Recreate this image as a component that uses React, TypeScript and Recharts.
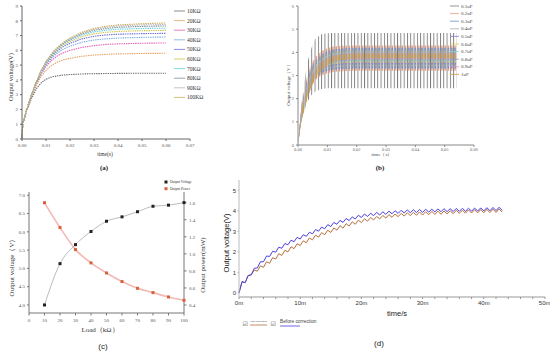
import React from 'react';
import { LineChart, Line, AreaChart, Area, ComposedChart, XAxis, YAxis } from 'recharts';

const serif = 'Liberation Serif, serif';
const sans = 'Liberation Sans, Arial, sans-serif';

// ---------- (a) output voltage for different loads ----------
const loadNames = ['10KΩ', '20KΩ', '30KΩ', '40KΩ', '50KΩ', '60KΩ', '70KΩ', '80KΩ', '90KΩ', '100KΩ'];
const aTime = [0, 0.0003, 0.002, 0.004, 0.006, 0.008, 0.01, 0.0125, 0.015, 0.0175, 0.02, 0.025, 0.03, 0.035, 0.04, 0.05, 0.06];
const aVolt = [
  [0, 1.0, 1.95, 2.75, 3.4, 3.8, 4.05, 4.2, 4.28, 4.33, 4.36, 4.4, 4.42, 4.43, 4.44, 4.45, 4.45],
  [0, 1.0, 2.0, 2.9, 3.65, 4.25, 4.65, 5.0, 5.22, 5.36, 5.46, 5.6, 5.68, 5.73, 5.76, 5.79, 5.8],
  [0, 1.0, 2.0, 2.95, 3.75, 4.4, 4.9, 5.35, 5.65, 5.85, 6.0, 6.2, 6.32, 6.4, 6.44, 6.48, 6.5],
  [0, 1.0, 2.0, 3.0, 3.8, 4.5, 5.0, 5.5, 5.85, 6.1, 6.28, 6.55, 6.7, 6.78, 6.83, 6.88, 6.9],
  [0, 1.0, 2.0, 3.0, 3.82, 4.55, 5.1, 5.6, 6.0, 6.28, 6.48, 6.78, 6.95, 7.04, 7.09, 7.13, 7.15],
  [0, 1.0, 2.0, 3.0, 3.85, 4.58, 5.15, 5.68, 6.08, 6.38, 6.6, 6.93, 7.12, 7.22, 7.28, 7.33, 7.35],
  [0, 1.0, 2.0, 3.0, 3.86, 4.6, 5.18, 5.72, 6.14, 6.45, 6.68, 7.04, 7.25, 7.36, 7.43, 7.48, 7.5],
  [0, 1.0, 2.0, 3.0, 3.87, 4.62, 5.2, 5.75, 6.18, 6.5, 6.74, 7.12, 7.35, 7.48, 7.56, 7.62, 7.65],
  [0, 1.0, 2.0, 3.0, 3.88, 4.63, 5.22, 5.78, 6.21, 6.54, 6.79, 7.18, 7.42, 7.56, 7.65, 7.72, 7.75],
  [0, 1.0, 2.0, 3.0, 3.88, 4.64, 5.24, 5.8, 6.24, 6.57, 6.83, 7.23, 7.48, 7.63, 7.72, 7.8, 7.85],
];
const aXTicks = [0, 0.01, 0.02, 0.03, 0.04, 0.05, 0.06, 0.07];
const aYTicks = [0, 1, 2, 3, 4, 5, 6, 7, 8, 9];
const loadColors = ['#6e6e6e', '#e3a25e', '#e25fb4', '#79aee0', '#6a6ad6', '#cfc24a', '#62d2e2', '#7d8a9a', '#b8b8b8', '#c9ad5c'];

// ---------- (b) output voltage for different capacitors (ripple envelope) ----------
const capNames = ['0.1uF', '0.2uF', '0.3uF', '0.4uF', '0.5uF', '0.6uF', '0.7uF', '0.8uF', '0.9uF', '1uF'];
const bTime = [0, 0.001, 0.002, 0.003, 0.004, 0.005, 0.006, 0.008, 0.01, 0.012, 0.015, 0.02, 0.025, 0.054];
const capHigh = [
  [0, 1.6, 2.6, 3.4, 3.95, 4.35, 4.6, 4.78, 4.82, 4.83, 4.83, 4.83, 4.83, 4.83],
  [0, 1.5, 2.3, 2.9, 3.3, 3.6, 3.8, 4.05, 4.18, 4.25, 4.28, 4.3, 4.3, 4.3],
  [0, 1.45, 2.2, 2.75, 3.15, 3.45, 3.65, 3.9, 4.05, 4.12, 4.17, 4.2, 4.2, 4.2],
  [0, 1.4, 2.1, 2.65, 3.05, 3.35, 3.57, 3.83, 3.98, 4.05, 4.1, 4.12, 4.12, 4.12],
  [0, 1.38, 2.05, 2.58, 2.98, 3.28, 3.5, 3.78, 3.93, 4.0, 4.05, 4.08, 4.08, 4.08],
  [0, 1.36, 2.0, 2.52, 2.92, 3.22, 3.45, 3.73, 3.89, 3.97, 4.02, 4.05, 4.05, 4.05],
  [0, 1.34, 1.97, 2.47, 2.86, 3.16, 3.4, 3.68, 3.85, 3.93, 3.99, 4.02, 4.02, 4.02],
  [0, 1.32, 1.94, 2.43, 2.81, 3.11, 3.35, 3.64, 3.81, 3.9, 3.96, 4.0, 4.0, 4.0],
  [0, 1.31, 1.92, 2.39, 2.76, 3.06, 3.3, 3.6, 3.77, 3.87, 3.94, 3.98, 3.98, 3.98],
  [0, 1.3, 1.9, 2.35, 2.72, 3.0, 3.25, 3.55, 3.73, 3.84, 3.91, 3.95, 3.95, 3.95],
];
const capLow = [
  [0, 0.9, 1.4, 1.8, 2.05, 2.22, 2.32, 2.42, 2.45, 2.45, 2.45, 2.45, 2.45, 2.45],
  [0, 1.0, 1.6, 2.05, 2.4, 2.65, 2.82, 3.0, 3.1, 3.15, 3.18, 3.2, 3.2, 3.2],
  [0, 1.0, 1.6, 2.1, 2.45, 2.72, 2.9, 3.1, 3.2, 3.25, 3.28, 3.3, 3.3, 3.3],
  [0, 1.0, 1.6, 2.1, 2.48, 2.76, 2.97, 3.2, 3.3, 3.35, 3.38, 3.4, 3.4, 3.4],
  [0, 1.0, 1.58, 2.08, 2.47, 2.77, 3.0, 3.25, 3.37, 3.43, 3.46, 3.48, 3.48, 3.48],
  [0, 0.98, 1.55, 2.05, 2.45, 2.76, 3.0, 3.28, 3.42, 3.49, 3.53, 3.55, 3.55, 3.55],
  [0, 0.97, 1.52, 2.02, 2.42, 2.74, 2.99, 3.29, 3.45, 3.53, 3.58, 3.6, 3.6, 3.6],
  [0, 0.96, 1.5, 1.98, 2.38, 2.7, 2.96, 3.28, 3.46, 3.56, 3.62, 3.65, 3.65, 3.65],
  [0, 0.95, 1.47, 1.94, 2.33, 2.65, 2.92, 3.26, 3.46, 3.58, 3.65, 3.69, 3.7, 3.7],
  [0, 0.95, 1.45, 1.9, 2.28, 2.6, 2.88, 3.22, 3.44, 3.58, 3.67, 3.73, 3.75, 3.75],
];
const bXTicks = [0, 0.01, 0.02, 0.03, 0.04, 0.05, 0.06];
const bYTicks = [0, 1, 2, 3, 4, 5, 6];
const capColors = ['#7a7a7a', '#e99a7c', '#6a8fd0', '#9fb3a6', '#8a7fd6', '#d8c55a', '#7fd0e0', '#8e9caa', '#e58fb4', '#c9a03e'];

// ---------- (c) voltage and power vs load ----------
const loadK = [10, 20, 30, 40, 50, 60, 70, 80, 90, 100];
const outVoltage = [4.0, 5.13, 5.65, 6.01, 6.29, 6.41, 6.55, 6.7, 6.73, 6.8];
const outPower = [1.6, 1.31, 1.05, 0.894, 0.776, 0.675, 0.596, 0.545, 0.494, 0.455];
const cXTicks = [0, 10, 20, 30, 40, 50, 60, 70, 80, 90, 100];
const cVTicks = [4.0, 4.5, 5.0, 5.5, 6.0, 6.5, 7.0];
const cPTicks = [0.4, 0.6, 0.8, 1.0, 1.2, 1.4, 1.6];

// ---------- (d) before / after correction (ms) ----------
const beforeTrough = [0, 0.5, 0.88, 1.22, 1.52, 1.78, 1.99, 2.18, 2.35, 2.5, 2.63, 2.76, 2.88, 3.01, 3.13, 3.24, 3.35, 3.44, 3.53, 3.61, 3.68, 3.73, 3.77, 3.8, 3.83, 3.86, 3.88, 3.9, 3.91, 3.92, 3.93, 3.94, 3.95, 3.96, 3.965, 3.97, 3.98, 3.985, 3.99, 3.995, 4.0, 4.01, 4.02, 4.03];
const beforePeak = [0.55, 0.85, 1.2, 1.52, 1.8, 2.03, 2.23, 2.41, 2.57, 2.71, 2.84, 2.96, 3.09, 3.21, 3.33, 3.44, 3.54, 3.63, 3.71, 3.79, 3.85, 3.89, 3.93, 3.96, 3.99, 4.01, 4.03, 4.05, 4.06, 4.07, 4.08, 4.09, 4.1, 4.11, 4.11, 4.12, 4.13, 4.13, 4.14, 4.15, 4.16, 4.17, 4.18];
const afterTrough = [0, 0.5, 0.88, 1.06, 1.25, 1.45, 1.65, 1.83, 2.0, 2.16, 2.31, 2.45, 2.59, 2.72, 2.84, 2.95, 3.06, 3.16, 3.26, 3.35, 3.43, 3.5, 3.56, 3.61, 3.65, 3.69, 3.72, 3.75, 3.77, 3.79, 3.8, 3.815, 3.83, 3.84, 3.855, 3.865, 3.88, 3.89, 3.9, 3.905, 3.91, 3.92, 3.93, 3.94];
const afterPeak = [0.55, 0.85, 1.12, 1.32, 1.52, 1.72, 1.91, 2.08, 2.25, 2.4, 2.54, 2.68, 2.82, 2.94, 3.06, 3.17, 3.28, 3.38, 3.47, 3.55, 3.62, 3.68, 3.73, 3.78, 3.82, 3.85, 3.88, 3.91, 3.93, 3.95, 3.96, 3.98, 3.99, 4.0, 4.01, 4.03, 4.04, 4.05, 4.06, 4.07, 4.08, 4.09, 4.1];
const dXTicks = [0, 2, 4, 6, 8, 10, 12, 14, 16, 18, 20, 22, 24, 26, 28, 30, 32, 34, 36, 38, 40, 42, 44, 46, 48, 50];
const dYTicks = [0, 1, 2, 3, 4, 5];

function PanelA() {
  const rows = aTime.map((t, i) => {
    const r: Record<string, number> = { t };
    aVolt.forEach((s, j) => (r['s' + j] = s[i]));
    return r;
  });
  const tick = { fontSize: 5, fill: '#555', fontFamily: serif };
  return (
    <div style={{ position: 'absolute', left: 0, top: 0 }}>
      <LineChart width={250} height={176} data={rows} margin={{ top: 6, right: 60, bottom: 0, left: 0 }}>
        <XAxis dataKey="t" type="number" domain={[0, 0.07]} ticks={aXTicks} tickFormatter={(v) => v.toFixed(2)}
          height={37} tickSize={2} tickMargin={2} tick={tick} stroke="#666" />
        <YAxis type="number" domain={[0, 9]} ticks={aYTicks} width={22} tickSize={2} tickMargin={2} tick={tick} stroke="#666" />
        {aVolt.map((_, j) => (
          <Line key={j} type="linear" dataKey={'s' + j} stroke={loadColors[j]} strokeWidth={1.1}
            strokeDasharray="1.4 0.9" dot={false} isAnimationActive={false} />
        ))}
      </LineChart>
    </div>
  );
}

function PanelB() {
  const rows = bTime.map((t, i) => {
    const r: Record<string, any> = { t };
    capHigh.forEach((s, j) => (r['c' + j] = [capLow[j][i], s[i]]));
    return r;
  });
  const tick = { fontSize: 4.5, fill: '#666', fontFamily: serif };
  return (
    <div style={{ position: 'absolute', left: 275, top: 0 }}>
      <AreaChart width={275} height={176} data={rows} margin={{ top: 6, right: 76, bottom: 0, left: 0 }}>
        <defs>
          {capColors.map((c, j) => (
            <pattern key={j} id={'spk' + j} width={3.3} height={8} patternUnits="userSpaceOnUse">
              <rect x={j === 0 ? 0 : 1.1} y={0} width={j === 0 ? 0.9 : 1.5} height={8} fill={c} />
            </pattern>
          ))}
        </defs>
        <XAxis dataKey="t" type="number" domain={[0, 0.06]} ticks={bXTicks} tickFormatter={(v) => v.toFixed(2)}
          height={31} tickSize={2} tickMargin={1} tick={tick} stroke="#888" />
        <YAxis type="number" domain={[0, 6]} ticks={bYTicks} width={23} tickSize={2} tickMargin={2} tick={tick} stroke="#888" />
        {capHigh.map((_, j) => (
          <Area key={j} type="linear" dataKey={'c' + j} stroke="none" fill={'url(#spk' + j + ')'} fillOpacity={1}
            dot={false} activeDot={false} isAnimationActive={false} />
        ))}
      </AreaChart>
    </div>
  );
}

const squareDot = (fill: string, size: number) => (props: any) => {
  const { cx, cy, index } = props;
  if (cx == null || cy == null) return <g key={index} />;
  return <rect key={index} x={cx - size / 2} y={cy - size / 2} width={size} height={size} fill={fill} />;
};

function PanelC() {
  const rows = loadK.map((x, i) => ({ x, v: outVoltage[i], p: outPower[i] }));
  const tick = { fontSize: 5, fill: '#555', fontFamily: serif };
  return (
    <div style={{ position: 'absolute', left: 0, top: 176 }}>
      <ComposedChart width={215} height={176} data={rows} margin={{ top: 16, right: 0, bottom: 0, left: 0 }}>
        <XAxis dataKey="x" type="number" domain={[0, 100]} ticks={cXTicks} height={39} tickSize={2.5} tickMargin={2.5}
          tick={tick} stroke="#777" />
        <YAxis yAxisId="v" type="number" domain={[3.78, 7.09]} ticks={cVTicks} tickFormatter={(v) => v.toFixed(1)}
          width={29} tickSize={2} tickMargin={2} tick={tick} stroke="#777" />
        <YAxis yAxisId="p" orientation="right" type="number" domain={[0.306, 1.726]} ticks={cPTicks}
          tickFormatter={(v) => v.toFixed(1)} width={31} tickSize={2.5} tickMargin={2.5} tick={tick} stroke="#777" />
        <Line yAxisId="p" type="monotone" dataKey="p" stroke="#f3b9b5" strokeWidth={1.6} dot={squareDot('#d8623c', 3)}
          activeDot={false} isAnimationActive={false} />
        <Line yAxisId="v" type="monotone" dataKey="v" stroke="#aaa" strokeWidth={0.8} dot={squareDot('#222', 3)}
          activeDot={false} isAnimationActive={false} />
      </ComposedChart>
    </div>
  );
}

function PanelD() {
  const rows: { t: number; b: number; a: number }[] = [];
  beforeTrough.forEach((v, k) => {
    rows.push({ t: k, b: v, a: afterTrough[k] });
    if (k < beforePeak.length) rows.push({ t: k + 0.5, b: beforePeak[k], a: afterPeak[k] });
  });
  const tick = { fontSize: 6, fill: '#333', fontFamily: sans };
  return (
    <div style={{ position: 'absolute', left: 215, top: 176 }}>
      <LineChart width={335} height={176} data={rows} margin={{ top: 4, right: 5, bottom: 0, left: 0 }}>
        <XAxis dataKey="t" type="number" domain={[0, 50]} ticks={dXTicks}
          tickFormatter={(v) => (v % 10 === 0 ? v + 'm' : '')} height={55} tickSize={2} tickMargin={1.5}
          tick={tick} stroke="#999" />
        <YAxis type="number" domain={[-0.2, 5.51]} ticks={dYTicks} width={24} tickSize={1.5} tickMargin={1.5}
          tick={tick} stroke="#bbb" />
        <Line type="linear" dataKey="a" stroke="#b8703e" strokeWidth={1} dot={false} isAnimationActive={false} />
        <Line type="linear" dataKey="b" stroke="#4a3fe0" strokeWidth={1} dot={false} isAnimationActive={false} />
      </LineChart>
    </div>
  );
}

function Overlay() {
  return (
    <svg width={550} height={352} style={{ position: 'absolute', left: 0, top: 0, pointerEvents: 'none' }}>
      {/* (a) */}
      <text x={10} y={77} transform="rotate(-90 10 77)" textAnchor="middle" dominantBaseline="central"
        fontFamily={serif} fontSize={6.5} fill="#333">Output voltage(V)</text>
      <text x={105} y={154} textAnchor="middle" dominantBaseline="central" fontFamily={serif} fontSize={5.5} fill="#333">time(s)</text>
      <text x={104} y={168} textAnchor="middle" dominantBaseline="central" fontFamily={serif} fontSize={7} fontWeight="bold" fill="#222">(a)</text>
      {loadNames.map((n, i) => (
        <g key={n}>
          <line x1={174} x2={185} y1={11 + i * 9.6} y2={11 + i * 9.6} stroke={loadColors[i]} strokeWidth={0.8} />
          <text x={187} y={11 + i * 9.6} dominantBaseline="central" fontFamily={serif} fontSize={5.5} fill="#333">{n}</text>
        </g>
      ))}
      {/* (b) */}
      <text x={288} y={84} transform="rotate(-90 288 84)" textAnchor="middle" dominantBaseline="central"
        fontFamily={serif} fontSize={5} fill="#444">Output voltage（V）</text>
      <text x={382} y={154} textAnchor="middle" dominantBaseline="central" fontFamily={serif} fontSize={5} fill="#444">time（s）</text>
      <text x={380} y={168} textAnchor="middle" dominantBaseline="central" fontFamily={serif} fontSize={7} fontWeight="bold" fill="#222">(b)</text>
      {capNames.map((n, i) => (
        <g key={n}>
          <line x1={450} x2={459} y1={6 + i * 7.6} y2={6 + i * 7.6} stroke={capColors[i]} strokeWidth={0.8} />
          <text x={461} y={6 + i * 7.6} dominantBaseline="central" fontFamily={serif} fontSize={5} fill="#444">{n}</text>
        </g>
      ))}
      {/* (c) */}
      <text x={12} y={266} transform="rotate(-90 12 266)" textAnchor="middle" dominantBaseline="central"
        fontFamily={serif} fontSize={7} fill="#333">Output voltage（V）</text>
      <text x={203} y={265} transform="rotate(-90 203 265)" textAnchor="middle" dominantBaseline="central"
        fontFamily={serif} fontSize={7} fill="#333">Output power(mW)</text>
      <text x={100} y={330} textAnchor="middle" dominantBaseline="central" fontFamily={serif} fontSize={7} fill="#333">Load（kΩ）</text>
      <text x={103} y={346} textAnchor="middle" dominantBaseline="central" fontFamily={sans} fontSize={8} fill="#222">(c)</text>
      <rect x={164.5} y={180.5} width={3} height={3} fill="#222" />
      <text x={170} y={182} dominantBaseline="central" fontFamily={serif} fontSize={3.6} fill="#333">Output Voltage</text>
      <rect x={164.5} y={187.2} width={3} height={3} fill="#d8623c" />
      <text x={170} y={188.7} dominantBaseline="central" fontFamily={serif} fontSize={3.6} fill="#333">Output Power</text>
      {/* (d) */}
      <text x={226} y={243} transform="rotate(-90 226 243)" textAnchor="middle" dominantBaseline="central"
        fontFamily={sans} fontSize={7.5} fill="#222">Output voltage(V)</text>
      <text x={397} y={313} textAnchor="middle" dominantBaseline="central" fontFamily={sans} fontSize={7.5} fill="#222">time/s</text>
      <text x={379} y={343} textAnchor="middle" dominantBaseline="central" fontFamily={sans} fontSize={8} fill="#222">(d)</text>
      <text x={242.5} y={323.5} dominantBaseline="central" fontFamily="DejaVu Sans" fontSize={6} fill="#444">☑</text>
      <text x={250} y={321.5} dominantBaseline="central" fontFamily={sans} fontSize={2.5} fill="#444">After correction</text>
      <line x1={250} x2={267} y1={325} y2={325} stroke="#b8703e" strokeWidth={0.8} />
      <text x={270.5} y={323.5} dominantBaseline="central" fontFamily="DejaVu Sans" fontSize={6} fill="#444">☑</text>
      <text x={280} y={321.5} dominantBaseline="central" fontFamily={sans} fontSize={4.8} fill="#444">Before correction</text>
      <line x1={280} x2={300} y1={326} y2={326} stroke="#4a3fe0" strokeWidth={0.8} />
    </svg>
  );
}

export default function App() {
  return (
    <div style={{ position: 'fixed', left: 0, top: 0, width: 550, height: 352, background: '#fff', overflow: 'hidden' }}>
      <PanelA />
      <PanelB />
      <PanelC />
      <PanelD />
      <Overlay />
    </div>
  );
}
